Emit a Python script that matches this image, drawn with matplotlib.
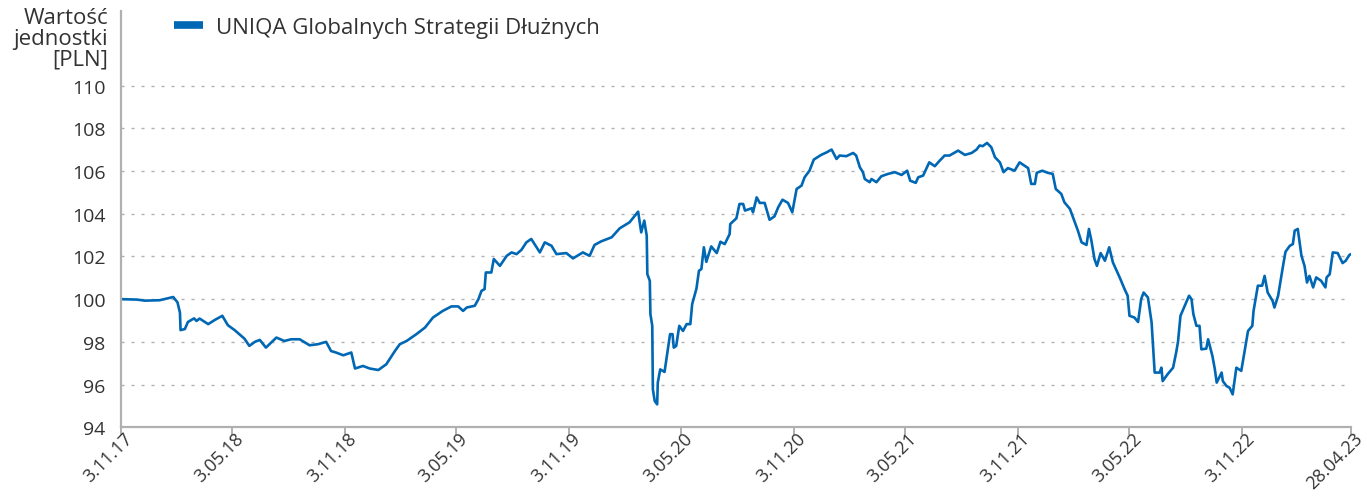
import matplotlib
matplotlib.use("Agg")
import matplotlib.pyplot as plt
import matplotlib.transforms as mtransforms
from matplotlib.lines import Line2D
import pandas as pd

plt.rcParams['font.family'] = ['Open Sans', 'DejaVu Sans']

# wartość jednostki uczestnictwa
dates = [
    "2017-11-03", "2017-11-29", "2017-12-12", "2018-01-05", "2018-01-15", "2018-01-27",
    "2018-02-03", "2018-02-07", "2018-02-08", "2018-02-15", "2018-02-20", "2018-03-02",
    "2018-03-06", "2018-03-11", "2018-03-25", "2018-04-05", "2018-04-17", "2018-04-26",
    "2018-05-07", "2018-05-23", "2018-05-31", "2018-06-09", "2018-06-17", "2018-06-27",
    "2018-07-14", "2018-07-27", "2018-08-07", "2018-08-21", "2018-09-06", "2018-09-20",
    "2018-10-03", "2018-10-11", "2018-10-19", "2018-10-31", "2018-11-13", "2018-11-19",
    "2018-12-02", "2018-12-13", "2018-12-27", "2019-01-09", "2019-01-23", "2019-01-31",
    "2019-02-11", "2019-02-27", "2019-03-13", "2019-03-26", "2019-04-11", "2019-04-25",
    "2019-05-06", "2019-05-14", "2019-05-20", "2019-06-02", "2019-06-08", "2019-06-13",
    "2019-06-18", "2019-06-20", "2019-06-29", "2019-07-03", "2019-07-13", "2019-07-24",
    "2019-08-01", "2019-08-09", "2019-08-17", "2019-08-25", "2019-09-02", "2019-09-16",
    "2019-09-24", "2019-10-05", "2019-10-13", "2019-10-29", "2019-11-09", "2019-11-25",
    "2019-12-06", "2019-12-14", "2019-12-25", "2020-01-11", "2020-01-24", "2020-02-09",
    "2020-02-23", "2020-02-28", "2020-03-04", "2020-03-08", "2020-03-09", "2020-03-13",
    "2020-03-14", "2020-03-17", "2020-03-18", "2020-03-21", "2020-03-25", "2020-03-26",
    "2020-03-30", "2020-04-06", "2020-04-15", "2020-04-19", "2020-04-21", "2020-04-25",
    "2020-04-30", "2020-05-06", "2020-05-12", "2020-05-18", "2020-05-21", "2020-05-28",
    "2020-06-01", "2020-06-05", "2020-06-09", "2020-06-13", "2020-06-21", "2020-06-30",
    "2020-07-06", "2020-07-13", "2020-07-21", "2020-07-22", "2020-08-01", "2020-08-06",
    "2020-08-12", "2020-08-15", "2020-08-26", "2020-08-28", "2020-09-03", "2020-09-08",
    "2020-09-16", "2020-09-24", "2020-10-02", "2020-10-08", "2020-10-15", "2020-10-24",
    "2020-10-31", "2020-11-07", "2020-11-15", "2020-11-20", "2020-11-28", "2020-12-05",
    "2020-12-17", "2020-12-26", "2021-01-03", "2021-01-11", "2021-01-16", "2021-01-27",
    "2021-02-07", "2021-02-12", "2021-02-18", "2021-02-23", "2021-02-26", "2021-03-06",
    "2021-03-09", "2021-03-17", "2021-03-25", "2021-04-05", "2021-04-16", "2021-04-27",
    "2021-05-06", "2021-05-11", "2021-05-20", "2021-05-24", "2021-06-01", "2021-06-11",
    "2021-06-20", "2021-06-28", "2021-07-06", "2021-07-14", "2021-07-28", "2021-08-08",
    "2021-08-19", "2021-08-27", "2021-09-01", "2021-09-06", "2021-09-13", "2021-09-20",
    "2021-09-26", "2021-10-04", "2021-10-10", "2021-10-17", "2021-10-28", "2021-11-05",
    "2021-11-19", "2021-11-24", "2021-11-30", "2021-12-03", "2021-12-12", "2021-12-21",
    "2021-12-29", "2022-01-03", "2022-01-12", "2022-01-17", "2022-01-26", "2022-02-01",
    "2022-02-08", "2022-02-14", "2022-02-22", "2022-02-26", "2022-03-02", "2022-03-07",
    "2022-03-11", "2022-03-17", "2022-03-24", "2022-03-31", "2022-04-06", "2022-04-17",
    "2022-04-25", "2022-04-30", "2022-05-03", "2022-05-11", "2022-05-17", "2022-05-22",
    "2022-05-26", "2022-06-02", "2022-06-08", "2022-06-13", "2022-06-21", "2022-06-24",
    "2022-06-26", "2022-07-04", "2022-07-13", "2022-07-18", "2022-07-21", "2022-07-25",
    "2022-08-01", "2022-08-08", "2022-08-12", "2022-08-15", "2022-08-20", "2022-08-25",
    "2022-08-28", "2022-09-05", "2022-09-08", "2022-09-15", "2022-09-19", "2022-09-22",
    "2022-09-30", "2022-10-02", "2022-10-08", "2022-10-13", "2022-10-18", "2022-10-24",
    "2022-11-01", "2022-11-06", "2022-11-12", "2022-11-19", "2022-11-21", "2022-11-28",
    "2022-12-05", "2022-12-09", "2022-12-14", "2022-12-22", "2022-12-25", "2022-12-31",
    "2023-01-08", "2023-01-12", "2023-01-19", "2023-01-24", "2023-01-27", "2023-02-01",
    "2023-02-07", "2023-02-12", "2023-02-16", "2023-02-20", "2023-02-26", "2023-03-03",
    "2023-03-11", "2023-03-18", "2023-03-20", "2023-03-25", "2023-03-30", "2023-04-07",
    "2023-04-15", "2023-04-20", "2023-04-26", "2023-04-28",
]
values = [
    100.00, 99.98, 99.93, 99.95, 100.02, 100.10,
    99.85, 99.37, 98.55, 98.60, 98.93, 99.10,
    98.98, 99.09, 98.83, 99.03, 99.22, 98.78,
    98.55, 98.15, 97.81, 98.00, 98.09, 97.73,
    98.20, 98.04, 98.12, 98.12, 97.84, 97.89,
    98.00, 97.57, 97.50, 97.37, 97.50, 96.75,
    96.87, 96.75, 96.68, 96.95, 97.57, 97.89,
    98.04, 98.36, 98.67, 99.14, 99.45, 99.66,
    99.66, 99.45, 99.61, 99.69, 100.00, 100.39,
    100.47, 101.25, 101.25, 101.88, 101.56, 102.03,
    102.19, 102.11, 102.31, 102.66, 102.82, 102.19,
    102.66, 102.50, 102.11, 102.16, 101.91, 102.19,
    102.03, 102.54, 102.71, 102.90, 103.32, 103.60,
    104.10, 103.13, 103.68, 102.97, 101.17, 100.86,
    99.30, 98.75, 95.77, 95.23, 95.07, 96.09,
    96.71, 96.59, 98.36, 98.36, 97.73, 97.81,
    98.75, 98.51, 98.83, 98.83, 99.77, 100.50,
    101.33, 101.41, 102.43, 101.75, 102.47, 102.16,
    102.69, 102.58, 103.05, 103.52, 103.79, 104.46,
    104.46, 104.15, 104.26, 104.07, 104.77, 104.51,
    104.51, 103.72, 103.88, 104.30, 104.66, 104.51,
    104.07, 105.16, 105.32, 105.71, 106.02, 106.54,
    106.76, 106.88, 107.01, 106.57, 106.73, 106.70,
    106.85, 106.73, 106.18, 105.95, 105.63, 105.48,
    105.63, 105.48, 105.76, 105.87, 105.95, 105.82,
    106.02, 105.55, 105.45, 105.71, 105.79, 106.41,
    106.23, 106.49, 106.73, 106.73, 106.96, 106.76,
    106.85, 107.01, 107.20, 107.17, 107.32, 107.12,
    106.65, 106.41, 105.95, 106.14, 106.02, 106.41,
    106.14, 105.40, 105.40, 105.92, 106.02, 105.92,
    105.87, 105.16, 104.93, 104.54, 104.23, 103.76,
    103.21, 102.66, 102.54, 103.29, 102.74, 101.88,
    101.56, 102.16, 101.80, 102.43, 101.72, 101.02,
    100.47, 100.16, 99.22, 99.14, 98.93, 100.00,
    100.31, 100.08, 98.91, 96.56, 96.56, 96.79,
    96.16, 96.48, 96.79, 97.50, 98.00, 99.22,
    99.69, 100.16, 100.00, 99.30, 98.75, 98.75,
    97.65, 97.68, 98.12, 97.34, 96.71, 96.09,
    96.56, 96.16, 95.93, 95.85, 95.54, 96.79,
    96.64, 97.50, 98.51, 98.75, 99.45, 100.63,
    100.63, 101.09, 100.31, 99.92, 99.61, 100.16,
    101.56, 102.22, 102.50, 102.58, 103.21, 103.29,
    102.03, 101.56, 100.78, 101.09, 100.55, 101.02,
    100.86, 100.55, 101.02, 101.17, 102.19, 102.16,
    101.69, 101.80, 102.07, 102.10,
]
series_name = "UNIQA Globalnych Strategii Dłużnych"
tick_dates = ["2017-11-03", "2018-05-03", "2018-11-03", "2019-05-03", "2019-11-03",
              "2020-05-03", "2020-11-03", "2021-05-03", "2021-11-03", "2022-05-03",
              "2022-11-03", "2023-04-28"]
tick_labels = ["3.11.17", "3.05.18", "3.11.18", "3.05.19", "3.11.19", "3.05.20",
               "3.11.20", "3.05.21", "3.11.21", "3.05.22", "3.11.22", "28.04.23"]
y_ticks = [94, 96, 98, 100, 102, 104, 106, 108, 110]

blue = "#0067b4"
grey = "#b0b0b0"
text_col = "#333333"

x = pd.to_datetime(dates)
fig = plt.figure(figsize=(13.67, 5.02), dpi=100)
ax = fig.add_axes([0.0885, 0.147, 0.8995, 0.829])

ax.plot(x, values, color=blue, lw=1.9, solid_joinstyle="round")

ax.set_ylim(94, 113.5)
ax.set_yticks(y_ticks)
ax.set_xlim(pd.Timestamp(tick_dates[0]), pd.Timestamp(tick_dates[-1]))
ax.set_xticks(pd.to_datetime(tick_dates))

ax.grid(axis="y", color=grey, linestyle=(0, (2.2, 5)), lw=1)
ax.set_axisbelow(True)
for s in ["top", "right"]:
    ax.spines[s].set_visible(False)
for s in ["left", "bottom"]:
    ax.spines[s].set_color(grey)
    ax.spines[s].set_linewidth(1.6)

ax.tick_params(axis="y", length=0, pad=11, labelsize=14, labelcolor=text_col)
ax.tick_params(axis="x", length=6, width=1.4, color=grey, pad=2,
               labelsize=13, labelcolor=text_col)

ax.set_xticklabels(tick_labels, rotation=45, ha="right", va="center",
                   rotation_mode="anchor")
# etykiety osi X lekko przesunięte w prawo, jak w oryginale
shift = mtransforms.ScaledTranslation(9 / 100, 3 / 100, fig.dpi_scale_trans)
for tick in ax.xaxis.get_major_ticks():
    tick.label1.set_transform(tick.label1.get_transform() + shift)

fig.text(108 / 1367, 1 - 8 / 502, "Wartość\njednostki\n[PLN]", ha="right", va="top",
         fontsize=16, color=text_col, linespacing=0.98)

handle = Line2D([], [], color=blue, lw=5.5, solid_capstyle="butt")
ax.legend([handle], [series_name], loc="upper left", frameon=False,
          bbox_to_anchor=(154 / 1367, 1 + 2 / 502), bbox_transform=fig.transFigure,
          fontsize=16, handlelength=1.3, handletextpad=0.6,
          labelcolor=text_col)

fig.savefig("out.png", dpi=100)
